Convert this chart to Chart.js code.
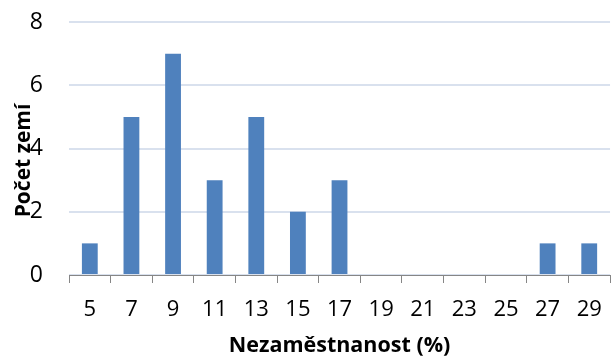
<!DOCTYPE html>
<html>
<head>
<meta charset="utf-8">
<script src="https://cdn.jsdelivr.net/npm/chart.js@4"></script>
<style>
  html, body { margin: 0; padding: 0; background: #fff; }
  #box { width: 616px; height: 363px; }
</style>
</head>
<body>
<div id="box"><canvas id="graf"></canvas></div>
<script>
const kategorie = ['5', '7', '9', '11', '13', '15', '17', '19', '21', '23', '25', '27', '29'];
const pocty = [1, 5, 7, 3, 5, 2, 3, 0, 0, 0, 0, 1, 1];
const ticksY = [0, 2, 4, 6, 8];
const nazevX = 'Nezaměstnanost (%)';
const nazevY = 'Počet zemí';

const PISMO = "'Open Sans', sans-serif";

// popisek osy Y se kreslí ručně, aby zasahoval přes čísla na ose
const popisekY = {
    id: 'popisekY',
    afterDraw(chart) {
        const { ctx, chartArea } = chart;
        ctx.save();
        ctx.translate(chartArea.left - 45, (chartArea.top + chartArea.bottom) / 2 + 12);
        ctx.rotate(-Math.PI / 2);
        ctx.font = `bold 21px ${PISMO}`;
        ctx.fillStyle = '#000';
        ctx.textAlign = 'center';
        ctx.textBaseline = 'middle';
        ctx.fillText(nazevY, 0, 0);
        ctx.restore();
    }
};

new Chart(document.getElementById('graf'), {
    type: 'bar',
    data: {
        labels: kategorie,
        datasets: [{
            data: pocty,
            backgroundColor: '#4F81BD',
            categoryPercentage: 1,
            barPercentage: 0.38
        }]
    },
    options: {
        responsive: true,
        maintainAspectRatio: false,
        animation: false,
        layout: { padding: { top: 22, right: 5, left: 0, bottom: 0 } },
        plugins: {
            legend: { display: false },
            tooltip: { enabled: false }
        },
        scales: {
            x: {
                afterFit(s) { s.height = 88; },
                border: { color: '#868686', width: 1 },
                grid: {
                    offset: true,
                    drawOnChartArea: false,
                    drawTicks: true,
                    tickLength: 8,
                    color: '#868686'
                },
                ticks: {
                    color: '#000',
                    padding: 14,
                    maxRotation: 0,
                    autoSkip: false,
                    font: { family: PISMO, size: 22 }
                },
                title: {
                    display: true,
                    text: nazevX,
                    color: '#000',
                    padding: { top: 4 },
                    font: { family: PISMO, size: 21.5, weight: 'bold' }
                }
            },
            y: {
                min: 0,
                max: 8,
                afterFit(s) {
                    s.width = 69;
                    s.paddingTop = 0;
                    s.paddingBottom = 0;
                },
                afterBuildTicks(s) { s.ticks = ticksY.map(v => ({ value: v })); },
                border: { display: false },
                grid: {
                    color: '#D9E1EE',
                    lineWidth: 2,
                    drawTicks: false
                },
                ticks: {
                    color: '#000',
                    padding: 26,
                    font: { family: PISMO, size: 23 }
                }
            }
        }
    },
    plugins: [popisekY]
});
</script>
</body>
</html>
